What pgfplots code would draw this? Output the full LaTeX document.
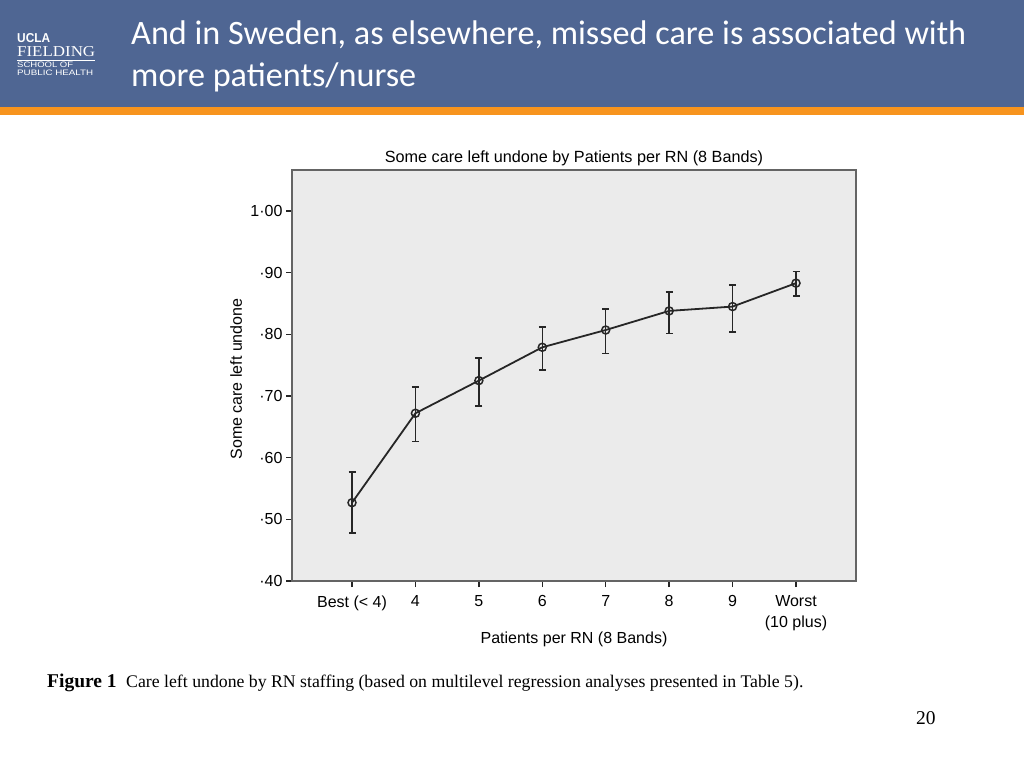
\documentclass[border=0pt]{standalone}
\usepackage{fontspec}
\usepackage{graphicx}
\usepackage{pgfplots}
\pgfplotsset{compat=1.18}
\setmainfont{Liberation Sans}
\newfontfamily\seriffont{Liberation Serif}
\newfontfamily\calibri{Carlito}
\definecolor{headblue}{RGB}{79,102,147}
\definecolor{headorange}{RGB}{247,148,30}
\definecolor{plotbg}{RGB}{235,235,235}
\definecolor{framegray}{RGB}{100,100,100}
\begin{document}
\begin{tikzpicture}[x=1pt,y=1pt]
\useasboundingbox (0,0) rectangle (1024,768);
\fill[white] (0,0) rectangle (1024,768);
% header
\fill[headblue] (0,661) rectangle (1024,768);
\fill[headorange] (0,653) rectangle (1024,661);
\node[anchor=base west, inner sep=0, text=white, font=\calibri\fontsize{34.2}{40}\selectfont] at (131,723) {And in Sweden, as elsewhere, missed care is associated with};
\node[anchor=base west, inner sep=0, text=white, font=\calibri\fontsize{34.2}{40}\selectfont] at (131,681) {more patients/nurse};
% logo
\node[anchor=base west, inner sep=0, text=white] at (17,725) {\resizebox{33pt}{9pt}{\bfseries UCLA}};
\node[anchor=base west, inner sep=0, text=white] at (17,711) {\resizebox{78pt}{10pt}{\seriffont FIELDING}};
\draw[white, line width=0.5pt] (17,708) -- (95,708);
\node[anchor=base west, inner sep=0, text=white] at (17,700) {\resizebox{56pt}{5.5pt}{SCHOOL OF}};
\node[anchor=base west, inner sep=0, text=white] at (17,692) {\resizebox{76pt}{5.5pt}{PUBLIC HEALTH}};
% chart
\begin{axis}[
  at={(292pt,187pt)}, anchor=south west,
  scale only axis, width=564pt, height=411pt,
  xmin=-0.946, xmax=7.946, ymin=0.4, ymax=1.0665,
  axis background/.style={fill=plotbg},
  axis line style={draw=framegray, line width=1.5pt},
  tick pos=left, tick align=outside, major tick length=6pt,
  tick style={draw=black!85, line width=1.5pt},
  xtick={0,1,2,3,4,5,6,7},
  xticklabels={Best (< 4),4,5,6,7,8,9,{Worst\\(10 plus)}},
  ytick={0.4,0.5,0.6,0.7,0.8,0.9,1.0},
  yticklabels={·40,·50,·60,·70,·80,·90,1·00},
  tick label style={font=\fontsize{16}{20.5}\selectfont},
  x tick label style={align=center, anchor=north, yshift=-5pt},
  title={Some care left undone by Patients per RN (8 Bands)},
  every axis title/.style={at={(axis description cs:0.5,1)}, anchor=base, yshift=7pt, font=\fontsize{16.2}{19}\selectfont},
  xlabel={Patients per RN (8 Bands)},
  every axis x label/.style={at={(axis description cs:0.5,0)}, anchor=base, yshift=-62pt, font=\fontsize{16}{19}\selectfont},
  ylabel={Some care left undone},
  every axis y label/.style={at={(axis description cs:-0.0887,0.4915)}, anchor=base, rotate=90, font=\fontsize{16}{19}\selectfont},
]
\addplot[color=black!85, line width=1.8pt, mark=o, mark size=4pt,
  mark options={line width=1.5pt, fill=plotbg},
  error bars/.cd, y dir=both, y explicit,
  error bar style={line width=1.5pt, black!85},
  error mark options={rotate=90, mark size=3.5pt, line width=1.5pt, black!85}]
coordinates {
(0,0.527) += (0,0.050) -= (0,0.049)
(1,0.672) += (0,0.043) -= (0,0.046)
(2,0.725) += (0,0.037) -= (0,0.041)
(3,0.779) += (0,0.033) -= (0,0.037)
(4,0.807) += (0,0.034) -= (0,0.038)
(5,0.838) += (0,0.031) -= (0,0.037)
(6,0.845) += (0,0.035) -= (0,0.041)
(7,0.883) += (0,0.019) -= (0,0.021)
};
\end{axis}
% caption
\node[anchor=base west, inner sep=0, font=\seriffont\bfseries\fontsize{19.5}{22}\selectfont] at (47,81) {Figure 1};
\node[anchor=base west, inner sep=0, font=\seriffont\fontsize{17.75}{20}\selectfont] at (126,81) {Care left undone by RN staffing (based on multilevel regression analyses presented in Table 5).};
\node[anchor=base west, inner sep=0, font=\seriffont\fontsize{19.5}{22}\selectfont] at (916,44) {20};
\end{tikzpicture}
\end{document}
